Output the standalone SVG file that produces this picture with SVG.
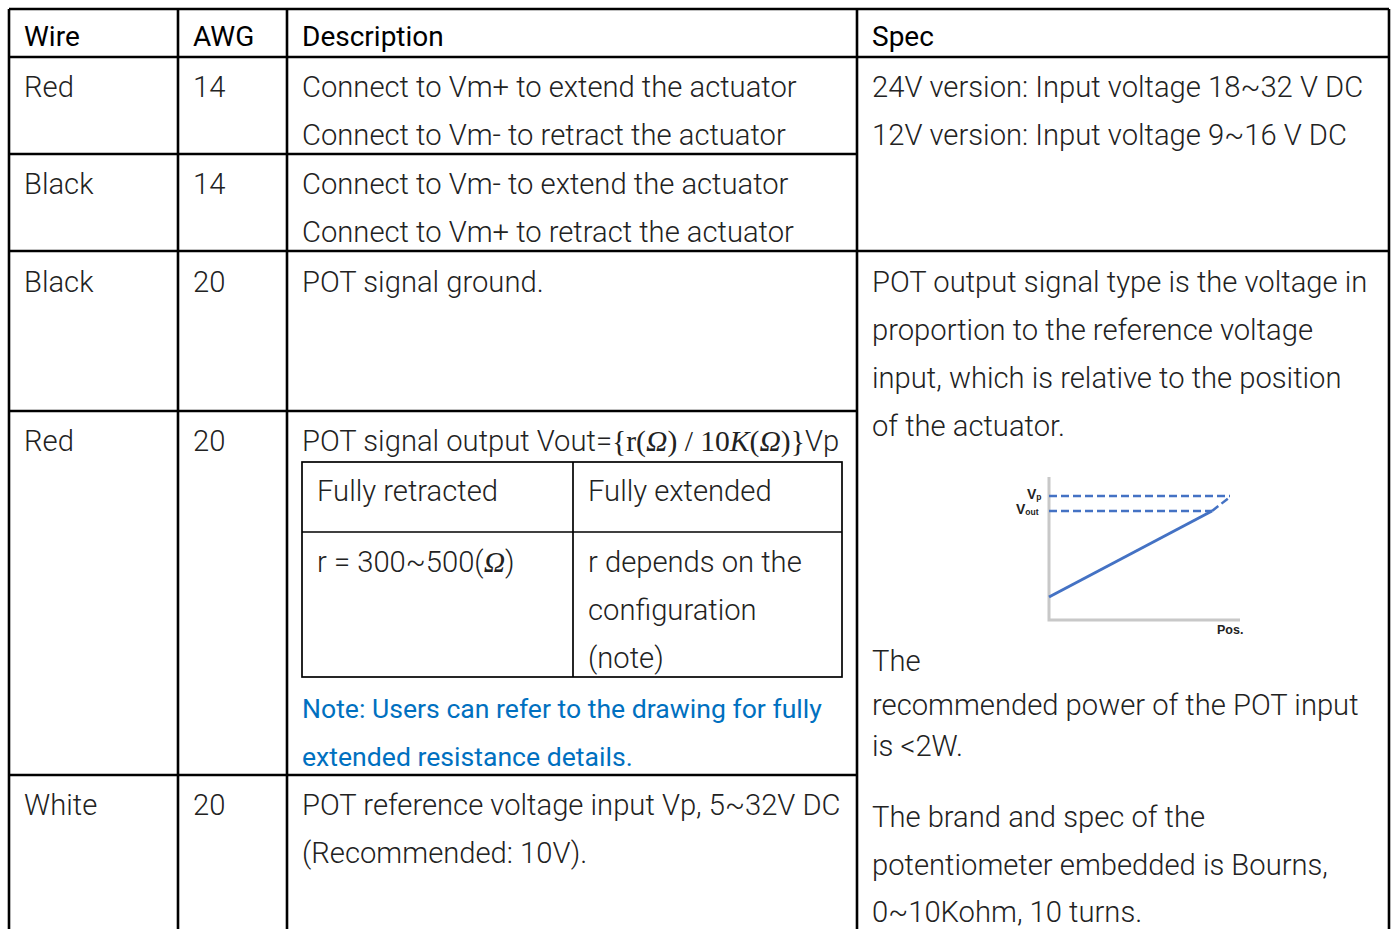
<svg xmlns="http://www.w3.org/2000/svg" width="1394" height="929" viewBox="0 0 1394 929">
  <style>
    .t { font-family: Roboto, "Liberation Sans", sans-serif; font-weight: 300; font-size: 29.2px; fill: #222; }
    .h { font-family: Roboto, "Liberation Sans", sans-serif; font-weight: 400; font-size: 28px; fill: #000; }
    .note { fill: #0070c0; font-weight: 400; font-size: 26.6px; }
    .m { font-family: "Liberation Serif", "DejaVu Serif", serif; font-weight: 400; font-size: 29.6px; fill: #222; }
    .grid { stroke: #000; stroke-width: 2.6; fill: none; }
    .inner { stroke: #000; stroke-width: 1.7; fill: none; }
    .axis { stroke: #c8c8c8; stroke-width: 3; fill: none; }
    .curve { stroke: #4472c4; stroke-width: 3; fill: none; }
    .dash { stroke: #4472c4; stroke-width: 2.5; fill: none; stroke-dasharray: 8 4; }
    .lbl { font-family: "Liberation Sans", Arial, sans-serif; font-weight: 700; fill: #222; }
  </style>

  <rect width="1394" height="929" fill="#fff"/>

  <!-- table rules -->
  <g id="grid" class="grid">
    <line x1="9" y1="9" x2="1389" y2="9"/>
    <line x1="9" y1="57" x2="1389" y2="57"/>
    <line x1="9" y1="154" x2="857" y2="154"/>
    <line x1="9" y1="251" x2="1389" y2="251"/>
    <line x1="9" y1="411" x2="857" y2="411"/>
    <line x1="9" y1="775" x2="857" y2="775"/>
    <line x1="9" y1="9" x2="9" y2="929"/>
    <line x1="178" y1="9" x2="178" y2="929"/>
    <line x1="287" y1="9" x2="287" y2="929"/>
    <line x1="857" y1="9" x2="857" y2="929"/>
    <line x1="1389" y1="9" x2="1389" y2="929"/>
  </g>

  <!-- header -->
  <g id="header">
    <text class="h" x="24" y="46">Wire</text>
    <text class="h" x="193" y="46">AWG</text>
    <text class="h" x="302" y="46">Description</text>
    <text class="h" x="872" y="46">Spec</text>
  </g>

  <!-- motor wires -->
  <g id="row-red-14">
    <text class="t" x="24" y="97">Red</text>
    <text class="t" x="193" y="97">14</text>
    <text class="t" x="302" y="97">Connect to Vm+ to extend the actuator</text>
    <text class="t" x="302" y="145">Connect to Vm- to retract the actuator</text>
  </g>
  <g id="row-black-14">
    <text class="t" x="24" y="194">Black</text>
    <text class="t" x="193" y="194">14</text>
    <text class="t" x="302" y="194">Connect to Vm- to extend the actuator</text>
    <text class="t" x="302" y="242">Connect to Vm+ to retract the actuator</text>
  </g>
  <g id="spec-motor">
    <text class="t" x="872" y="97">24V version: Input voltage 18~32 V DC</text>
    <text class="t" x="872" y="145">12V version: Input voltage 9~16 V DC</text>
  </g>

  <!-- POT wires -->
  <g id="row-black-20">
    <text class="t" x="24" y="292">Black</text>
    <text class="t" x="193" y="292">20</text>
    <text class="t" x="302" y="292">POT signal ground.</text>
  </g>

  <g id="row-red-20">
    <text class="t" x="24" y="451">Red</text>
    <text class="t" x="193" y="451">20</text>
    <text class="t" x="302" y="451">POT signal output Vout=<tspan class="m">{r(<tspan font-style="italic">Ω</tspan>) / 10<tspan font-style="italic">K</tspan>(<tspan font-style="italic">Ω</tspan>)}</tspan>Vp</text>
    <g id="resistance-table">
      <rect class="inner" x="302" y="462" width="540" height="215"/>
      <line class="inner" x1="573" y1="462" x2="573" y2="677"/>
      <line class="inner" x1="302" y1="532" x2="842" y2="532"/>
      <text class="t" x="317" y="501">Fully retracted</text>
      <text class="t" x="588" y="501">Fully extended</text>
      <text class="t" x="317" y="572">r = 300~500(<tspan class="m" font-style="italic">Ω</tspan>)</text>
      <text class="t" x="588" y="572">r depends on the</text>
      <text class="t" x="588" y="620">configuration</text>
      <text class="t" x="588" y="668">(note)</text>
    </g>
    <text class="t note" x="302" y="718">Note: Users can refer to the drawing for fully</text>
    <text class="t note" x="302" y="766">extended resistance details.</text>
  </g>

  <g id="row-white-20">
    <text class="t" x="24" y="815">White</text>
    <text class="t" x="193" y="815">20</text>
    <text class="t" x="302" y="815">POT reference voltage input Vp, 5~32V DC</text>
    <text class="t" x="302" y="863">(Recommended: 10V).</text>
  </g>

  <g id="spec-pot">
    <text class="t" x="872" y="292">POT output signal type is the voltage in</text>
    <text class="t" x="872" y="340">proportion to the reference voltage</text>
    <text class="t" x="872" y="388">input, which is relative to the position</text>
    <text class="t" x="872" y="436">of the actuator.</text>
    <text class="t" x="872" y="671">The</text>
    <text class="t" x="872" y="715">recommended power of the POT input</text>
    <text class="t" x="872" y="756">is &lt;2W.</text>
    <text class="t" x="872" y="827">The brand and spec of the</text>
    <text class="t" x="872" y="875">potentiometer embedded is Bourns,</text>
    <text class="t" x="872" y="922">0~10Kohm, 10 turns.</text>
  </g>

  <!-- output voltage vs position chart -->
  <g id="pot-chart">
    <polyline class="axis" points="1049,477 1049,620 1240,620"/>
    <line class="dash" x1="1049" y1="496" x2="1230" y2="496"/>
    <line class="dash" x1="1049" y1="511" x2="1212" y2="511"/>
    <line class="curve" x1="1049" y1="597" x2="1212" y2="511"/>
    <line class="dash" x1="1212" y1="511" x2="1230" y2="497"/>
    <text class="lbl" x="1027" y="499" font-size="14">V<tspan font-size="8.5" dy="1">p</tspan></text>
    <text class="lbl" x="1016" y="514" font-size="14">V<tspan font-size="8.5" dy="1">out</tspan></text>
    <text class="lbl" x="1217" y="634" font-size="12.5">Pos.</text>
  </g>
</svg>
